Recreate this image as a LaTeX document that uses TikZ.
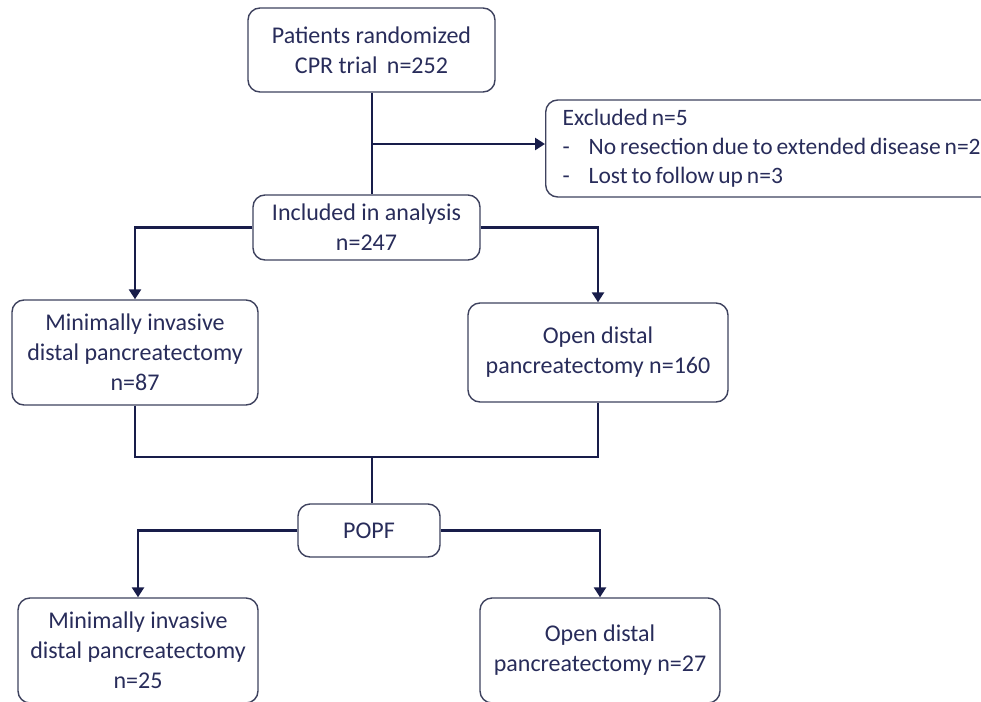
\documentclass[tikz,border=0pt]{standalone}
\usepackage{fontspec}
\setmainfont{Carlito}
\usepackage{xcolor}
\usepackage{tikz}
\usetikzlibrary{arrows.meta, positioning}
\definecolor{navytext}{RGB}{40,44,90}
\definecolor{navyline}{RGB}{24,29,74}
\definecolor{navyborder}{RGB}{62,66,94}
\begin{document}
\begin{tikzpicture}[x=1pt, y=-1pt,
  box/.style={draw=navyborder, line width=1.4pt, rounded corners=12pt, text=navytext, align=center, inner sep=0pt, font={\fontsize{24}{30}\selectfont}},
  link/.style={draw=navyline, line width=2.8pt},
  arr/.style={link, -{Triangle[width=12pt,length=10pt]}}]
\useasboundingbox (0,0) rectangle (981,701);
\node [box, minimum width=247pt, minimum height=84pt] (patients) at (371.5,50) {Patients randomized\\ CPR trial\, n=252};
\node [box, anchor=west, align=left, minimum width=445pt, minimum height=97pt, inner xsep=17pt, font={\fontsize{23.5}{29}\selectfont\spaceskip=3.9pt plus 1pt}] (excluded) at (545,148.5) {Excluded n=5\\ \makebox[26pt][l]{-}No resection due to extended disease n=2\\ \makebox[26pt][l]{-}Lost to follow up n=3};
\node [box, minimum width=227pt, minimum height=65pt] (included) at (366.5,227.5) {Included in analysis\\ n=247};
\node [box, minimum width=246pt, minimum height=105pt] (mipl) at (135,352.5) {Minimally invasive\\ distal pancreatectomy\\ n=87};
\node [box, minimum width=260pt, minimum height=99pt] (opl) at (598,352.5) {Open distal\\ pancreatectomy n=160};
\node [box, minimum width=142pt, minimum height=53pt] (popf) at (369,530.5) {POPF};
\node [box, minimum width=240pt, minimum height=105pt] (mipl2) at (138,650.5) {Minimally invasive\\ distal pancreatectomy\\ n=25};
\node [box, minimum width=240pt, minimum height=105pt] (opl2) at (600,650.5) {Open distal\\ pancreatectomy n=27};
\coordinate (split) at (372,144);
\coordinate (join) at (372,457);
\draw [link] (patients.south -| split) -- (included.north -| split);
\draw [arr] (split) -- (split -| excluded.west);
\draw [arr] (included.west) -| (mipl.north);
\draw [arr] (included.east) -| (opl.north);
\draw [link] (mipl.south) |- (join) -| (opl.south);
\draw [link] (join) -- (popf.north -| join);
\draw [arr] (popf.west) -| (mipl2.north);
\draw [arr] (popf.east) -| (opl2.north);
\end{tikzpicture}
\end{document}
